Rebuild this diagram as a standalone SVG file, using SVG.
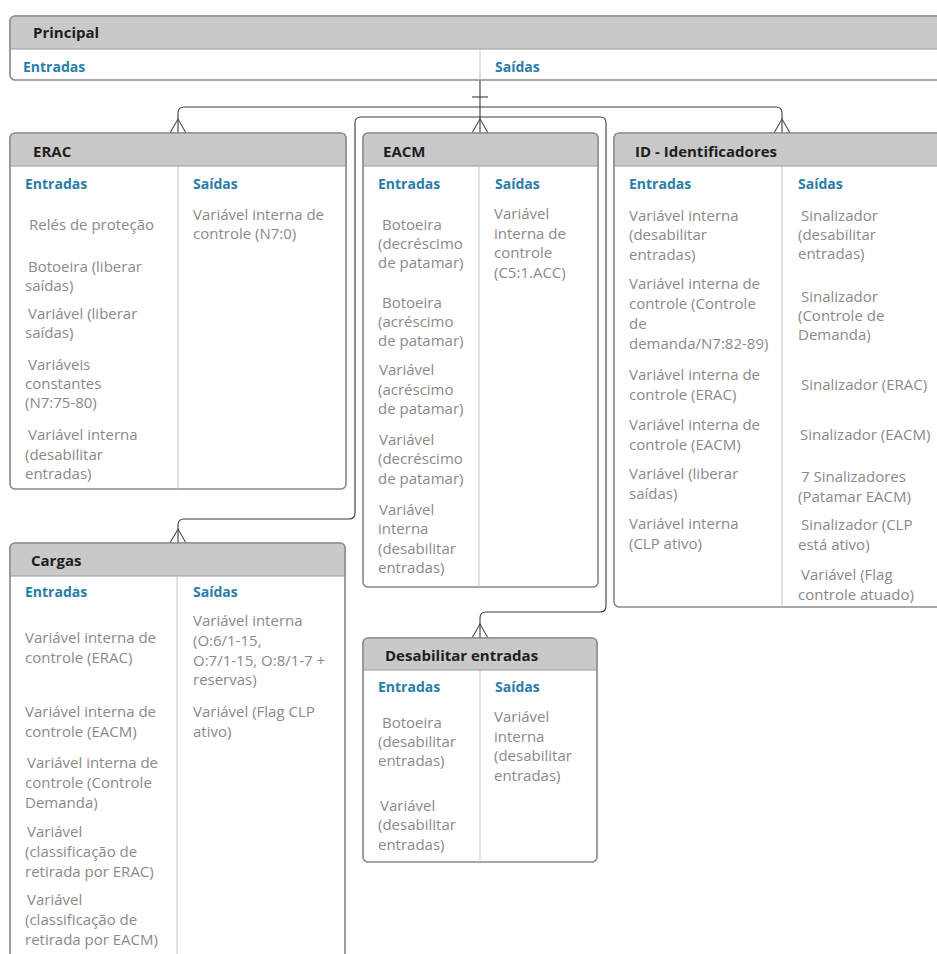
<svg xmlns="http://www.w3.org/2000/svg" xmlns:xlink="http://www.w3.org/1999/xlink" width="937" height="954" viewBox="0 0 937 954">
  <style>
    .box { fill: #ffffff; stroke: #8a8a8a; stroke-width: 1.2; }
    .frame { fill: none; stroke: #8a8a8a; stroke-width: 1.2; }
    .hdr { fill: #c9c9c9; stroke: #9a9a9a; stroke-width: 1; }
    .div { stroke: #c4c4c4; stroke-width: 1; }
    .title { font-family: "Open Sans", "Noto Sans", sans-serif; font-weight: bold; font-size: 15px; fill: #1e1e1e; }
    .col { font-family: "Open Sans", "Noto Sans", sans-serif; font-weight: bold; font-size: 14px; fill: #2a7da8; }
    .item { font-family: "Open Sans", "Noto Sans", sans-serif; font-size: 15px; fill: #8a8a8a; }
    .link { fill: none; stroke: #3a3a3a; stroke-width: 1.1; }
    .foot { fill: none; stroke: #4a4a4a; stroke-width: 1.1; }
  </style>
  <defs>
    <!-- crow's foot (many) end drawn with its tips on the entity's top edge -->
    <path id="crow" d="M-8,0 L0,-14 L8,0"/>
  </defs>

  <rect width="937" height="954" fill="#ffffff"/>

  <!-- connectors -->
  <g id="connectors">
    <path class="link" d="M480,80 V133"/>
    <path class="link" d="M472,97 H488"/>
    <path class="link" d="M178,133 V113 Q178,107 184,107 H776 Q782,107 782,113 V133"/>
    <path class="link" d="M480,117 H361 Q355,117 355,123 V513 Q355,519 349,519 H184 Q178,519 178,525 V543"/>
    <path class="link" d="M480,117 H600 Q606,117 606,123 V606 Q606,612 600,612 H486 Q480,612 480,618 V638"/>
    <use xlink:href="#crow" class="foot" x="178" y="133"/>
    <use xlink:href="#crow" class="foot" x="480" y="133"/>
    <use xlink:href="#crow" class="foot" x="782" y="133"/>
    <use xlink:href="#crow" class="foot" x="178" y="543"/>
    <use xlink:href="#crow" class="foot" x="480" y="638"/>
  </g>

  <!-- Principal -->
  <g id="principal">
    <rect class="box" x="10" y="16" width="960" height="64" rx="5"/>
    <path class="hdr" d="M10,49 V21 Q10,16 15,16 H970 V49 Z"/>
    <rect class="frame" x="10" y="16" width="960" height="64" rx="5"/>
    <line class="div" x1="480" y1="49" x2="480" y2="80"/>
    <text class="title" x="33" y="38">Principal</text>
    <text class="col" x="23" y="72">Entradas</text>
    <text class="col" x="495" y="72">Saídas</text>
  </g>

  <!-- ERAC -->
  <g id="erac">
    <rect class="box" x="10" y="133" width="336" height="356" rx="5"/>
    <path class="hdr" d="M10,166 V138 Q10,133 15,133 H341 Q346,133 346,138 V166 Z"/>
    <rect class="frame" x="10" y="133" width="336" height="356" rx="5"/>
    <line class="div" x1="178" y1="166" x2="178" y2="489"/>
    <text class="title" x="33" y="157">ERAC</text>
    <text class="col" x="25" y="189">Entradas</text>
    <text class="col" x="193" y="189">Saídas</text>
    <text class="item" x="29" y="230">Relés de proteção</text>
    <text class="item" x="28" y="272">Botoeira (liberar</text>
    <text class="item" x="25" y="291">saídas)</text>
    <text class="item" x="28" y="319">Variável (liberar</text>
    <text class="item" x="25" y="338">saídas)</text>
    <text class="item" x="28" y="370">Variáveis</text>
    <text class="item" x="25" y="389">constantes</text>
    <text class="item" x="25" y="408">(N7:75-80)</text>
    <text class="item" x="28" y="440">Variável interna</text>
    <text class="item" x="25" y="460">(desabilitar</text>
    <text class="item" x="25" y="479">entradas)</text>
    <text class="item" x="193" y="220">Variável interna de</text>
    <text class="item" x="193" y="239">controle (N7:0)</text>
  </g>

  <!-- EACM -->
  <g id="eacm">
    <rect class="box" x="363" y="133" width="235" height="454" rx="5"/>
    <path class="hdr" d="M363,166 V138 Q363,133 368,133 H593 Q598,133 598,138 V166 Z"/>
    <rect class="frame" x="363" y="133" width="235" height="454" rx="5"/>
    <line class="div" x1="479" y1="166" x2="479" y2="587"/>
    <text class="title" x="383" y="157">EACM</text>
    <text class="col" x="378" y="189">Entradas</text>
    <text class="col" x="495" y="189">Saídas</text>
    <text class="item" x="382" y="230">Botoeira</text>
    <text class="item" x="378" y="249">(decréscimo</text>
    <text class="item" x="378" y="268">de patamar)</text>
    <text class="item" x="382" y="308">Botoeira</text>
    <text class="item" x="378" y="327">(acréscimo</text>
    <text class="item" x="378" y="346">de patamar)</text>
    <text class="item" x="379" y="375">Variável</text>
    <text class="item" x="378" y="395">(acréscimo</text>
    <text class="item" x="378" y="414">de patamar)</text>
    <text class="item" x="379" y="445">Variável</text>
    <text class="item" x="378" y="464">(decréscimo</text>
    <text class="item" x="378" y="484">de patamar)</text>
    <text class="item" x="379" y="515">Variável</text>
    <text class="item" x="378" y="534">interna</text>
    <text class="item" x="378" y="554">(desabilitar</text>
    <text class="item" x="378" y="573">entradas)</text>
    <text class="item" x="494" y="219">Variável</text>
    <text class="item" x="494" y="239">interna de</text>
    <text class="item" x="494" y="258">controle</text>
    <text class="item" x="494" y="278">(C5:1.ACC)</text>
  </g>

  <!-- ID - Identificadores -->
  <g id="identificadores">
    <rect class="box" x="614" y="133" width="340" height="474" rx="5"/>
    <path class="hdr" d="M614,166 V138 Q614,133 619,133 H954 V166 Z"/>
    <rect class="frame" x="614" y="133" width="340" height="474" rx="5"/>
    <line class="div" x1="782" y1="166" x2="782" y2="607"/>
    <text class="title" x="635" y="157">ID - Identificadores</text>
    <text class="col" x="629" y="189">Entradas</text>
    <text class="col" x="798" y="189">Saídas</text>
    <text class="item" x="629" y="221">Variável interna</text>
    <text class="item" x="629" y="240">(desabilitar</text>
    <text class="item" x="629" y="260">entradas)</text>
    <text class="item" x="629" y="289">Variável interna de</text>
    <text class="item" x="629" y="309">controle (Controle</text>
    <text class="item" x="629" y="329">de</text>
    <text class="item" x="629" y="349">demanda/N7:82-89)</text>
    <text class="item" x="629" y="380">Variável interna de</text>
    <text class="item" x="629" y="400">controle (ERAC)</text>
    <text class="item" x="629" y="430">Variável interna de</text>
    <text class="item" x="629" y="450">controle (EACM)</text>
    <text class="item" x="629" y="479">Variável (liberar</text>
    <text class="item" x="629" y="499">saídas)</text>
    <text class="item" x="629" y="529">Variável interna</text>
    <text class="item" x="629" y="549">(CLP ativo)</text>
    <text class="item" x="801" y="221">Sinalizador</text>
    <text class="item" x="798" y="240">(desabilitar</text>
    <text class="item" x="798" y="259">entradas)</text>
    <text class="item" x="801" y="302">Sinalizador</text>
    <text class="item" x="798" y="321">(Controle de</text>
    <text class="item" x="798" y="340">Demanda)</text>
    <text class="item" x="801" y="390">Sinalizador (ERAC)</text>
    <text class="item" x="800" y="440">Sinalizador (EACM)</text>
    <text class="item" x="801" y="482">7 Sinalizadores</text>
    <text class="item" x="798" y="502">(Patamar EACM)</text>
    <text class="item" x="801" y="530">Sinalizador (CLP</text>
    <text class="item" x="798" y="550">está ativo)</text>
    <text class="item" x="801" y="580">Variável (Flag</text>
    <text class="item" x="798" y="600">controle atuado)</text>
  </g>

  <!-- Cargas -->
  <g id="cargas">
    <rect class="box" x="10" y="543" width="335" height="425" rx="5"/>
    <path class="hdr" d="M10,576 V548 Q10,543 15,543 H340 Q345,543 345,548 V576 Z"/>
    <rect class="frame" x="10" y="543" width="335" height="425" rx="5"/>
    <line class="div" x1="177" y1="576" x2="177" y2="968"/>
    <text class="title" x="31" y="566">Cargas</text>
    <text class="col" x="25" y="597">Entradas</text>
    <text class="col" x="193" y="597">Saídas</text>
    <text class="item" x="25" y="643">Variável interna de</text>
    <text class="item" x="25" y="663">controle (ERAC)</text>
    <text class="item" x="25" y="717">Variável interna de</text>
    <text class="item" x="25" y="737">controle (EACM)</text>
    <text class="item" x="27" y="768">Variável interna de</text>
    <text class="item" x="25" y="788">controle (Controle</text>
    <text class="item" x="25" y="808">Demanda)</text>
    <text class="item" x="27" y="837">Variável</text>
    <text class="item" x="25" y="857">(classificação de</text>
    <text class="item" x="25" y="877">retirada por ERAC)</text>
    <text class="item" x="27" y="905">Variável</text>
    <text class="item" x="25" y="925">(classificação de</text>
    <text class="item" x="25" y="945">retirada por EACM)</text>
    <text class="item" x="193" y="626">Variável interna</text>
    <text class="item" x="193" y="646">(O:6/1-15,</text>
    <text class="item" x="193" y="666">O:7/1-15, O:8/1-7 +</text>
    <text class="item" x="193" y="685">reservas)</text>
    <text class="item" x="193" y="717">Variável (Flag CLP</text>
    <text class="item" x="193" y="737">ativo)</text>
  </g>

  <!-- Desabilitar entradas -->
  <g id="desabilitar-entradas">
    <rect class="box" x="363" y="638" width="234" height="224" rx="5"/>
    <path class="hdr" d="M363,670 V643 Q363,638 368,638 H592 Q597,638 597,643 V670 Z"/>
    <rect class="frame" x="363" y="638" width="234" height="224" rx="5"/>
    <line class="div" x1="480" y1="670" x2="480" y2="862"/>
    <text class="title" x="385" y="661">Desabilitar entradas</text>
    <text class="col" x="378" y="692">Entradas</text>
    <text class="col" x="495" y="692">Saídas</text>
    <text class="item" x="382" y="728">Botoeira</text>
    <text class="item" x="378" y="747">(desabilitar</text>
    <text class="item" x="378" y="766">entradas)</text>
    <text class="item" x="380" y="811">Variável</text>
    <text class="item" x="378" y="830">(desabilitar</text>
    <text class="item" x="378" y="850">entradas)</text>
    <text class="item" x="494" y="722">Variável</text>
    <text class="item" x="494" y="742">interna</text>
    <text class="item" x="494" y="761">(desabilitar</text>
    <text class="item" x="494" y="781">entradas)</text>
  </g>
</svg>
